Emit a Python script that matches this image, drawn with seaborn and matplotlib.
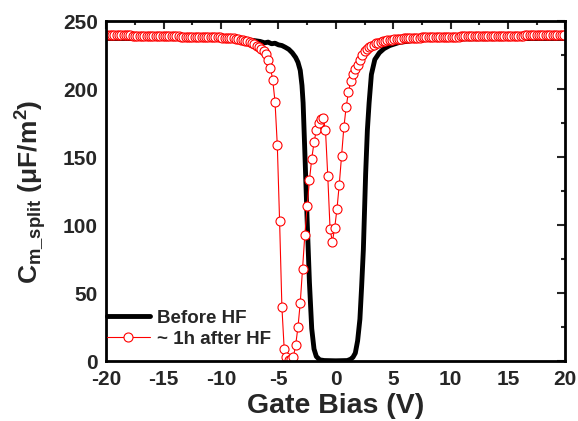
import numpy as np
import pandas as pd
import matplotlib
matplotlib.use('Agg')
import matplotlib.pyplot as plt
import seaborn as sns

# Before HF (thick black line)
bias_before = [-20, -15, -12, -10, -9, -8, -7.5, -7, -6.6, -6.2, -5.9, -5.6, -5.3, -5, -4.7,
               -4.4, -4.1, -3.8, -3.5, -3.3, -3.1, -2.95, -2.85, -2.7, -2.5, -2.3, -2.1, -1.9,
               -1.7, -1.4, -1.0, 0, 1.0, 1.3, 1.5, 1.7, 1.9, 2.1, 2.25, 2.4, 2.6, 2.75, 2.9,
               3.1, 3.4, 3.8, 4.2, 4.7, 5.5, 6.7, 8, 10, 15, 20]
cap_before = [237.5, 237.4, 237.3, 237.2, 237, 236.6, 236.3, 235.8, 235.3, 234.3, 234.8, 233.6,
              234.0, 232.8, 232.3, 231, 229.5, 227, 223.5, 220, 214, 203, 190, 154, 104, 58,
              24, 9, 3.5, 1, 0.5, 0.3, 0.5, 1.5, 3, 6, 15, 31, 55, 82, 138, 170, 190, 211,
              222, 227, 230, 232.3, 234.5, 236, 236.8, 237.2, 237.4, 237.5]

# ~1h after HF (red open circles), bias sweep in 0.2 V steps
bias_after = np.round(np.arange(-19.9, 20.0, 0.2), 1)
cap_after = [
    240.0, 240.0, 239.9, 239.9, 239.9, 239.8, 239.8, 239.8, 239.7, 239.7,
    239.7, 239.6, 239.6, 239.6, 239.5, 239.5, 239.5, 239.4, 239.4, 239.4,
    239.3, 239.3, 239.3, 239.2, 239.2, 239.2, 239.1, 239.1, 239.1, 239.0,
    239.0, 239.0, 238.9, 238.9, 238.9, 238.8, 238.8, 238.8, 238.7, 238.7,
    238.7, 238.6, 238.6, 238.6, 238.5, 238.5, 238.4, 238.4, 238.3, 238.3,
    238.2, 238.1, 238.0, 237.9, 237.7, 237.5, 237.3, 237.0, 236.7, 236.3,
    235.9, 235.4, 234.8, 234.1, 233.3, 232.3, 231.1, 229.8, 228.2,
    226, 222, 216, 207, 191, 159, 103, 40, 9, 3,
    1, 1.5, 3, 12, 25, 43, 68, 93, 114, 133,
    149, 161, 170, 175, 178, 179, 170, 136, 97, 88,
    98, 112, 130, 151, 172, 187, 198, 206, 211, 215,
    218, 222, 225, 228, 230, 231,
    232, 233, 233.8, 234.4, 234.9, 235.3, 235.7, 236.0, 236.3, 236.6,
    236.8, 237.0, 237.2, 237.4, 237.5, 237.7, 237.8, 237.9, 238.0, 238.1,
    238.2, 238.2, 238.3, 238.3, 238.4, 238.4, 238.5, 238.5, 238.6, 238.6,
    238.7, 238.7, 238.7, 238.8, 238.8, 238.8, 238.9, 238.9, 238.9, 239.0,
    239.0, 239.0, 239.0, 239.1, 239.1, 239.1, 239.1, 239.2, 239.2, 239.2,
    239.2, 239.3, 239.3, 239.3, 239.3, 239.4, 239.4, 239.4, 239.4, 239.5,
    239.5, 239.5, 239.5, 239.6, 239.6, 239.6, 239.6, 239.7, 239.7, 239.7,
    239.7, 239.8, 239.8, 239.8, 239.8, 239.9, 239.9, 239.9, 239.9, 240.0,
    240.0, 240.0, 240.0, 240.1, 240.1,
]

x_ticks = [-20, -15, -10, -5, 0, 5, 10, 15, 20]
y_ticks = [0, 50, 100, 150, 200, 250]

sns.set_style('white')
plt.rcParams['font.family'] = ['Liberation Sans', 'DejaVu Sans']
plt.rcParams['font.weight'] = 'bold'
plt.rcParams['axes.unicode_minus'] = False
plt.rcParams['mathtext.fontset'] = 'custom'
plt.rcParams['mathtext.rm'] = 'Liberation Sans:bold'
plt.rcParams['mathtext.it'] = 'Liberation Sans:bold'
plt.rcParams['mathtext.bf'] = 'Liberation Sans:bold'

df_before = pd.DataFrame({'bias': bias_before, 'cap': cap_before})
df_after = pd.DataFrame({'bias': bias_after, 'cap': cap_after})

fig = plt.figure(figsize=(5.78, 4.21), dpi=100)
ax = fig.add_axes([0.184, 0.142, 0.794, 0.807])

sns.lineplot(data=df_before, x='bias', y='cap', ax=ax, color='black', lw=3.5,
             sort=False, label='Before HF')
sns.lineplot(data=df_after, x='bias', y='cap', ax=ax, color='red', lw=0.8,
             marker='o', markersize=6.5, markerfacecolor='white', markeredgecolor='red',
             markeredgewidth=0.8, sort=False, label='~ 1h after HF')

ax.set_xlim(-20, 20)
ax.set_ylim(0, 250)
ax.set_xticks(x_ticks)
ax.set_yticks(y_ticks)
ax.set_xticks(np.arange(-17.5, 20, 5), minor=True)
ax.set_yticks(np.arange(25, 250, 50), minor=True)
ax.tick_params(which='both', direction='in', top=True, right=True, width=1.5,
               labelsize=15, pad=6)
ax.tick_params(which='major', length=6)
ax.tick_params(which='minor', length=3)
for lab in ax.get_xticklabels() + ax.get_yticklabels():
    lab.set_fontweight('bold')
for s in ax.spines.values():
    s.set_linewidth(2)
    s.set_color('black')

ax.set_xlabel('Gate Bias (V)', fontsize=20.5, fontweight='bold', labelpad=3)
ax.set_ylabel(r'C$_{\mathrm{m\_split}}$ (μF/m$^{\mathrm{2}}$)', fontsize=19,
              fontweight='bold', labelpad=10)

leg = ax.legend(loc='lower left', bbox_to_anchor=(-0.016, 0.018), frameon=False,
                borderaxespad=0, fontsize=13.5, handlelength=2.3, handletextpad=0.4,
                labelspacing=0.2)
for t in leg.get_texts():
    t.set_fontweight('bold')

fig.savefig('out.png', dpi=100)
